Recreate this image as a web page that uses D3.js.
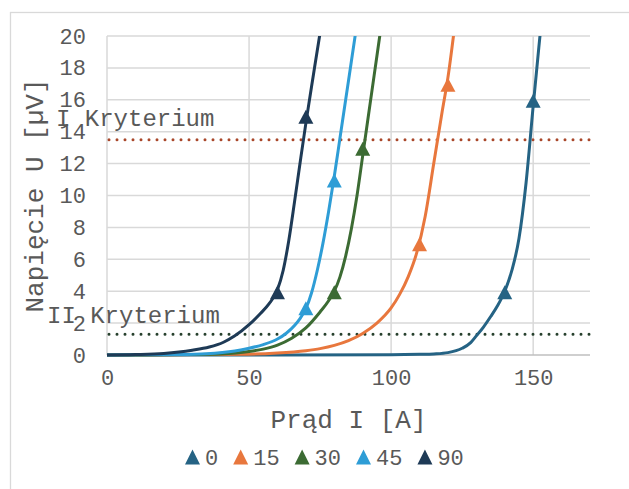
<!DOCTYPE html>
<html>
<head>
<meta charset="utf-8">
<script src="https://cdn.jsdelivr.net/npm/d3@7"></script>
<style>
  body { margin: 0; background: #fff; }
  text { font-family: "Liberation Mono", "Courier New", monospace; fill: #595959; }
</style>
</head>
<body>
<div id="wrapper"></div>
<script>
// series labels (angle) shown in the legend
const seriesNames = ['0', '15', '30', '45', '90'];

// curves: [I (A), U (µV)]
const curve0 = [[0,0],[60,0],[100,0.01],[110,0.04],[115,0.07],[120,0.15],[125,0.42],[128,0.78],[130,1.2],[132.5,1.75],[135,2.4],[137.5,3.1],[140,4.0],[142.5,5.3],[145,7.3],[147.5,10.8],[150,15.6],[152,19.3],[153.5,22]];
const curve15 = [[0,0],[50,0.05],[60,0.12],[70,0.27],[75,0.4],[80,0.6],[85,0.9],[90,1.35],[95,2.0],[100,2.95],[103,3.8],[106,4.9],[109,6.4],[112,8.7],[115,12.0],[118,15.3],[120,17.4],[122.5,20.8]];
const curve30 = [[0,0],[30,0.03],[40,0.07],[50,0.22],[55,0.37],[60,0.62],[65,1.05],[70,1.7],[75,2.7],[78,3.4],[80,4.0],[82,4.9],[84,6.2],[86,7.9],[88,10.0],[90,12.5],[92,15.0],[94,17.5],[96,20.0],[98,22.5]];
const curve45 = [[0,0],[25,0.03],[35,0.08],[45,0.25],[50,0.42],[55,0.65],[60,1.0],[63,1.35],[66,1.85],[68,2.3],[70,2.9],[72,3.9],[74,5.3],[76,7.0],[78,9.0],[80,11.2],[82,13.6],[84,16.0],[86,18.4],[88,20.8]];
const curve90 = [[0,0],[10,0.03],[20,0.1],[30,0.3],[36,0.5],[41,0.8],[45,1.2],[50,1.9],[54,2.6],[57,3.2],[60,4.1],[62,5.3],[64,7.2],[66,9.6],[68,12.1],[70.3,14.9],[72.5,17.4],[75,20.2],[77,22.3]];

// measured points (triangle markers)
const points0 = [[140,4],[150,16]];
const points15 = [[110,7],[120,17]];
const points30 = [[80,4],[90,13]];
const points45 = [[70,3],[80,11]];
const points90 = [[60,4],[70,15]];

// criteria levels
const criteriaNames = ['I Kryterium', 'II Kryterium'];
const criteriaValues = [13.5, 1.3];

const xTicks = [0, 50, 100, 150];
const yTicks = [0, 2, 4, 6, 8, 10, 12, 14, 16, 18, 20];

const curves = [curve0, curve15, curve30, curve45, curve90];
const points = [points0, points15, points30, points45, points90];
const colors = ['#256384', '#e8773d', '#3c6b33', '#2e9dd6', '#1e3a56'];
const critColors = ['#a9472a', '#263f2c'];

let width = 629, height = 489,
    margin = { left: 107, top: 36, right: 39, bottom: 134 };

let svg = d3.select('div#wrapper')
            .append('svg')
            .attr('width', width)
            .attr('height', height);

svg.append('rect')
   .attr('x', 10.5).attr('y', 12.5)
   .attr('width', 640).attr('height', 500)
   .attr('fill', '#fff')
   .attr('stroke', '#d9d9d9')
   .attr('stroke-width', 1.3);

let x = d3.scaleLinear().domain([0, 170]).range([margin.left, width - margin.right]);
let y = d3.scaleLinear().domain([0, 20]).range([height - margin.bottom, margin.top]);

// grid
svg.append('g').selectAll('line')
   .data(yTicks.filter(d => d > 0))
   .enter().append('line')
   .attr('x1', x(0)).attr('x2', x(170))
   .attr('y1', d => y(d)).attr('y2', d => y(d))
   .attr('stroke', '#d9d9d9').attr('stroke-width', 1.5);

svg.append('g').selectAll('line')
   .data(xTicks)
   .enter().append('line')
   .attr('x1', d => x(d)).attr('x2', d => x(d))
   .attr('y1', y(0)).attr('y2', y(20))
   .attr('stroke', '#d9d9d9').attr('stroke-width', 1.5);

svg.append('line')
   .attr('x1', x(0)).attr('x2', x(170))
   .attr('y1', y(0)).attr('y2', y(0))
   .attr('stroke', '#bfbfbf').attr('stroke-width', 1.5);

// axes (labels only)
let xAxis = d3.axisBottom(x).tickValues(xTicks).tickSize(0).tickPadding(14);
let yAxis = d3.axisLeft(y).tickValues(yTicks).tickSize(0).tickPadding(21);

svg.append('g')
   .attr('transform', 'translate(0,' + y(0) + ')')
   .call(xAxis)
   .call(g => g.select('.domain').remove())
   .selectAll('text')
   .style('font-size', '22px').attr('fill', '#595959');

svg.append('g')
   .attr('transform', 'translate(' + x(0) + ',0)')
   .call(yAxis)
   .call(g => g.select('.domain').remove())
   .selectAll('text')
   .style('font-size', '22px').attr('fill', '#595959');

// criteria dotted lines
svg.append('g').selectAll('line')
   .data(criteriaValues)
   .enter().append('line')
   .attr('x1', x(0) + 2).attr('x2', x(170))
   .attr('y1', d => y(d)).attr('y2', d => y(d))
   .attr('stroke', (d, i) => critColors[i])
   .attr('stroke-width', 3)
   .attr('stroke-linecap', 'round')
   .attr('stroke-dasharray', '0 8');

svg.append('clipPath').attr('id', 'plotclip')
   .append('rect')
   .attr('x', x(0)).attr('y', y(20))
   .attr('width', x(170) - x(0)).attr('height', y(0) - y(20) + 3);

let line = d3.line()
             .x(d => x(d[0]))
             .y(d => y(d[1]))
             .curve(d3.curveMonotoneX);

svg.append('g')
   .attr('clip-path', 'url(#plotclip)')
   .selectAll('path')
   .data(curves)
   .enter().append('path')
   .attr('d', line)
   .attr('fill', 'none')
   .attr('stroke', (d, i) => colors[i])
   .attr('stroke-width', 3);

function triangle(cx, cy, w, h) {
  return 'M' + cx + ',' + (cy - h / 2) + 'L' + (cx + w / 2) + ',' + (cy + h / 2) + 'L' + (cx - w / 2) + ',' + (cy + h / 2) + 'Z';
}

points.forEach(function (pts, i) {
  svg.append('g').selectAll('path')
     .data(pts)
     .enter().append('path')
     .attr('d', d => triangle(x(d[0]), y(d[1]) + 1, 15, 14))
     .attr('fill', colors[i]);
});

// criteria labels
let labelX = [56, 47];
let labelY = [126, 323];
svg.append('g').selectAll('text')
   .data(criteriaNames)
   .enter().append('text')
   .attr('x', (d, i) => labelX[i])
   .attr('y', (d, i) => labelY[i])
   .style('font-size', '24px')
   .style('white-space', 'pre')
   .text(d => d);

// axis titles
svg.append('text')
   .attr('x', (x(0) + x(170)) / 2)
   .attr('y', 428)
   .attr('text-anchor', 'middle')
   .style('font-size', '26px')
   .text('Prąd I [A]');

svg.append('text')
   .attr('transform', 'translate(43,' + ((y(0) + y(20)) / 2) + ') rotate(-90)')
   .attr('text-anchor', 'middle')
   .style('font-size', '26px')
   .text('Napięcie U [µV]');

// legend
let legend = svg.append('g');
let lx = 185, ly = 457;
seriesNames.forEach(function (name, i) {
  legend.append('path')
        .attr('d', triangle(lx + 7.5, ly, 15, 15))
        .attr('fill', colors[i]);
  let t = legend.append('text')
        .attr('x', lx + 20)
        .attr('y', ly + 7.5)
        .style('font-size', '22px')
        .text(name);
  lx += 20 + t.node().getComputedTextLength() + 15;
});
</script>
</body>
</html>
